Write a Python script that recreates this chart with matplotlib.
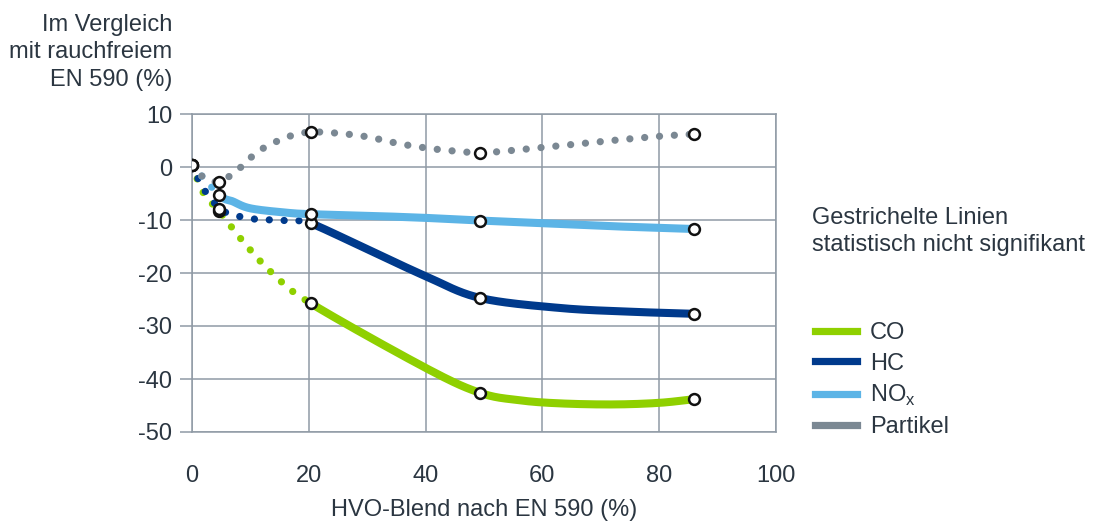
import numpy as np
import matplotlib.pyplot as plt
from matplotlib.lines import Line2D

plt.rcParams['font.family'] = ['Liberation Sans', 'DejaVu Sans']
plt.rcParams['mathtext.fontset'] = 'custom'
plt.rcParams['mathtext.rm'] = 'Liberation Sans'
plt.rcParams['axes.unicode_minus'] = False

# measured points (circles)
blend = [0, 4.7, 20.3, 49.3, 86.0]
co_pts = [0.4, -8.3, -25.7, -42.6, -43.8]
hc_pts = [0.4, -8.0, -10.6, -24.7, -27.7]
nox_pts = [0.4, -5.3, -8.9, -10.2, -11.7]
part_pts = [0.4, -2.8, 6.6, 2.6, 6.2]

# curves
co_x = [0, 2, 4.7, 9, 14, 20.3, 40, 49.3, 56, 63, 72, 80, 86]
co_y = [0.4, -5.0, -8.4, -14.4, -20.3, -25.7, -37.9, -42.6, -44.0, -44.6, -44.8, -44.5, -43.8]
hc_x = [0, 1.7, 3.4, 4.7, 7.7, 10.5, 14, 17.5, 20.3, 30, 40, 49.3, 63, 75, 86]
hc_y = [0.4, -3.7, -6.0, -8.0, -9.2, -9.8, -10.0, -10.2, -10.6, -15.5, -20.6, -24.7, -26.6, -27.3, -27.7]
nox_x = [0, 4.7, 7, 10, 16, 20.3, 30, 40, 49.3, 60, 70, 86]
nox_y = [0.4, -5.3, -6.5, -7.8, -8.6, -8.9, -9.2, -9.6, -10.1, -10.6, -11.1, -11.7]
part_x = [0, 1.9, 3.9, 6.5, 8.6, 10.6, 12.9, 15.1, 17.3, 20.3, 24.7, 30, 35, 40, 45, 49.3, 53.6, 60, 70, 80, 86]
part_y = [0.4, -1.9, -2.8, -1.7, 0.2, 2.3, 4.0, 5.1, 6.0, 6.6, 6.4, 5.7, 4.5, 3.6, 3.0, 2.7, 3.0, 3.7, 4.8, 5.8, 6.2]

names = ['CO', 'HC', 'NO$_\\mathregular{x}$', 'Partikel']
colors = ['#8fd000', '#003a8c', '#5cb4e6', '#7b8893']
# last value: x from which the line is significant (solid), None = all dotted
curves = [(co_x, co_y, 20.3), (hc_x, hc_y, 20.3), (nox_x, nox_y, 4.7), (part_x, part_y, None)]
points = [co_pts, hc_pts, nox_pts, part_pts]

txt = '#2b3641'
gridc = '#8f9aa5'


def smooth(xs, ys, n=30):
    # excel style smoothed line (catmull-rom bezier)
    p = np.column_stack([xs, ys]).astype(float)
    p = np.vstack([p[0], p, p[-1]])
    out = []
    t = np.linspace(0, 1, n)[:, None]
    for i in range(len(xs) - 1):
        p0, p1, p2, p3 = p[i], p[i + 1], p[i + 2], p[i + 3]
        c1 = p1 + (p2 - p0) / 6
        c2 = p2 - (p3 - p1) / 6
        seg = (1 - t)**3 * p1 + 3 * (1 - t)**2 * t * c1 + 3 * (1 - t) * t**2 * c2 + t**3 * p2
        out.append(seg if i == 0 else seg[1:])
    return np.vstack(out)


fig = plt.figure(figsize=(10.94, 5.21), dpi=100)
ax = fig.add_axes([192/1094, 1-432/521, (776-192)/1094, (432-114)/521])
ax.set(xlim=[0, 100], ylim=[-50, 10])

lw = 5.8
dot = 5.2
dots = (0, (0.01, 2.05))
for (cx, cy, start), c in zip(curves, colors):
    pts = smooth(cx, cy)
    if start is None:
        ax.plot(pts[:, 0], pts[:, 1], color=c, lw=dot, linestyle=dots,
                dash_capstyle='round', zorder=3)
    else:
        k = np.argmin(np.abs(pts[:, 0] - start))
        ax.plot(pts[:k+1, 0], pts[:k+1, 1], color=c, lw=dot, linestyle=dots,
                dash_capstyle='round', zorder=3)
        ax.plot(pts[k:, 0], pts[k:, 1], color=c, lw=lw, solid_capstyle='butt', zorder=4)

for yp in points:
    ax.plot(blend, yp, 'o', ms=7.8, mfc='white', mec='#111111', mew=1.8, zorder=6, ls='none')

ax.set_xticks(range(0, 101, 20))
ax.set_yticks(range(-50, 11, 10))
ax.grid(True, color=gridc, lw=1.1)
ax.set_axisbelow(True)
for s in ax.spines.values():
    s.set_color(gridc)
    s.set_linewidth(1.1)
ax.tick_params(axis='y', length=8.6, width=1.1, color=gridc, pad=5.5, labelsize=17, labelcolor=txt)
ax.tick_params(axis='x', length=0, pad=24, labelsize=17, labelcolor=txt)

fig.text(484/1094, 1-510/521, 'HVO-Blend nach EN 590 (%)', ha='center', va='center',
         fontsize=17, color=txt)
fig.text(172/1094, 1-14/521, 'Im Vergleich\nmit rauchfreiem\nEN 590 (%)', ha='right', va='top',
         fontsize=17, color=txt, linespacing=1.32)
fig.text(812/1094, 1-207/521, 'Gestrichelte Linien\nstatistisch nicht signifikant', ha='left', va='top',
         fontsize=17, color=txt, linespacing=1.3)

handles = [Line2D([], [], color=c, lw=5.2) for c in colors]
leg = fig.legend(handles, names, loc='upper left', bbox_to_anchor=(806/1094, 1-313/521),
                 frameon=False, fontsize=17, handlelength=1.75, handletextpad=0.55,
                 labelspacing=0.35, borderaxespad=0)
for t in leg.get_texts():
    t.set_color(txt)

fig.savefig('out.png', dpi=100)
